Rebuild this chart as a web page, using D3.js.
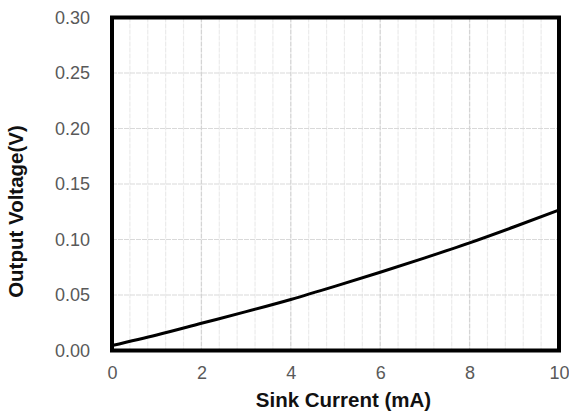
<!DOCTYPE html>
<html><head><meta charset="utf-8">
<script src="https://cdn.jsdelivr.net/npm/d3@7"></script>
<style>body{margin:0;background:#fff}svg{display:block}</style>
</head><body>
<svg id="c" width="569" height="419"></svg>
<script>
const currents = [0,1,2,3,4,5,6,7,8,9,10];
const voltages = [0.0045,0.014,0.0245,0.035,0.046,0.058,0.0705,0.0835,0.097,0.1115,0.1265];
const xTicks = [0,2,4,6,8,10];
const yTicks = [0,0.05,0.10,0.15,0.20,0.25,0.30];
const xMinor = d3.range(0,10.001,0.4);

const svg = d3.select('#c');
const L=112,R=559,T=17.5,B=350.5;
const x = d3.scaleLinear().domain([0,10]).range([L,R]);
const y = d3.scaleLinear().domain([0,0.3]).range([B,T]);
const FONT='"Liberation Sans", Arial, sans-serif';
const g = svg.append('g');
// minor vertical
g.selectAll('.mv').data(xMinor.filter(v=>Math.abs(v/2-Math.round(v/2))>1e-6)).join('line')
 .attr('x1',d=>x(d)).attr('x2',d=>x(d)).attr('y1',T).attr('y2',B)
 .attr('stroke','#ebebeb').attr('stroke-width',1.2).attr('stroke-dasharray','5,1');
// horizontal
g.selectAll('.h').data(yTicks.slice(1,-1)).join('line')
 .attr('x1',L).attr('x2',R).attr('y1',d=>y(d)).attr('y2',d=>y(d))
 .attr('stroke','#d9d9d9').attr('stroke-width',1.2).attr('stroke-dasharray','5,1');
// major vertical
g.selectAll('.v').data(xTicks.slice(1,-1)).join('line')
 .attr('x1',d=>x(d)).attr('x2',d=>x(d)).attr('y1',T).attr('y2',B)
 .attr('stroke','#d4d4d4').attr('stroke-width',1.3).attr('stroke-dasharray','5,1');

// curve
svg.append('path').datum(currents.map((c,i)=>[c,voltages[i]]))
 .attr('d',d3.line().x(d=>x(d[0])).y(d=>y(d[1])).curve(d3.curveMonotoneX))
 .attr('fill','none').attr('stroke','#000').attr('stroke-width',3);

// border
svg.append('rect').attr('x',L).attr('y',T).attr('width',R-L).attr('height',B-T)
 .attr('fill','none').attr('stroke','#000').attr('stroke-width',4);

// axes
const xa = svg.append('g').attr('transform',`translate(0,${B})`)
 .call(d3.axisBottom(x).tickValues(xTicks).tickFormat(d3.format('d')).tickSize(0).tickPadding(16));
const ya = svg.append('g').attr('transform',`translate(${L},0)`)
 .call(d3.axisLeft(y).tickValues(yTicks).tickFormat(d3.format('.2f')).tickSize(0).tickPadding(22));
[xa,ya].forEach(a=>{a.select('.domain').remove();
 a.selectAll('text').attr('fill','#595959').style('font-family',FONT).style('font-size','18px');});

svg.append('text').attr('x',343.5).attr('y',407).attr('text-anchor','middle')
 .style('font-family',FONT).style('font-size','20.5px').style('font-weight','bold')
 .attr('fill','#111').text('Sink Current (mA)');
svg.append('text').attr('transform',`translate(22.5,211.5) rotate(-90)`).attr('text-anchor','middle')
 .style('font-family',FONT).style('font-size','20.5px').style('font-weight','bold')
 .attr('fill','#111').text('Output Voltage(V)');
</script>
</body></html>
